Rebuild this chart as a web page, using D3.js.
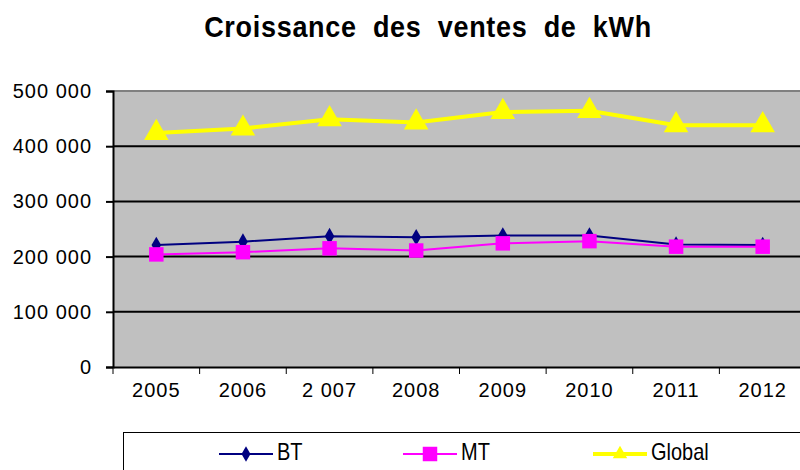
<!DOCTYPE html>
<html>
<head>
<meta charset="utf-8">
<script src="https://cdn.jsdelivr.net/npm/d3@7"></script>
<style>
  body { margin: 0; background: #fff; }
  svg { display: block; font-family: "Liberation Sans", Arial, sans-serif; }
</style>
</head>
<body>
<div id="chart"></div>
<script>
// data
const years = ["2005", "2006", "2 007", "2008", "2009", "2010", "2011", "2012"];
const bt = [221000, 227000, 237000, 235000, 238000, 238000, 222000, 221000];
const mt = [204000, 208000, 215000, 211000, 224000, 228000, 218000, 218000];
const global = [424000, 432000, 449000, 443000, 462000, 464000, 438000, 438000];
const yTicks = [0, 100000, 200000, 300000, 400000, 500000];

const series = [
  { name: "BT", values: bt, color: "#000080", width: 2, marker: "diamond" },
  { name: "MT", values: mt, color: "#FF00FF", width: 2, marker: "square" },
  { name: "Global", values: global, color: "#FFFF00", width: 4, marker: "triangle" }
];

const width = 800, height = 470;
const plot = { left: 113, top: 91, right: 806, bottom: 367 };
const FONT = "'Liberation Sans', Arial, sans-serif";

const svg = d3.select("#chart").append("svg")
  .attr("width", width)
  .attr("height", height);

// title
svg.append("text")
  .attr("transform", "translate(428,37) scale(1,1.08)")
  .attr("text-anchor", "middle")
  .attr("font-size", 27)
  .attr("font-weight", "bold")
  .attr("letter-spacing", 0.7)
  .attr("word-spacing", 8)
  .text("Croissance des ventes de kWh");

const x = d3.scaleBand().domain(years).range([plot.left, plot.right]);
const y = d3.scaleLinear().domain([0, 500000]).range([plot.bottom, plot.top]);

const fmt = v => d3.format(",")(v).replace(/,/g, " ");

// plot background
svg.append("rect")
  .attr("x", plot.left)
  .attr("y", plot.top)
  .attr("width", plot.right - plot.left)
  .attr("height", plot.bottom - plot.top)
  .attr("fill", "#C0C0C0");

svg.append("line")
  .attr("x1", plot.left).attr("x2", plot.right)
  .attr("y1", plot.top).attr("y2", plot.top)
  .attr("stroke", "#808080").attr("stroke-width", 2);

// gridlines
svg.append("g").selectAll("line")
  .data(yTicks.filter(t => t > 0 && t < 500000))
  .enter().append("line")
  .attr("x1", plot.left).attr("x2", plot.right)
  .attr("y1", d => y(d)).attr("y2", d => y(d))
  .attr("stroke", "#000").attr("stroke-width", 2);

// y axis
const yAxis = svg.append("g")
  .attr("transform", `translate(${plot.left},0)`)
  .call(d3.axisLeft(y).tickValues(yTicks).tickFormat(fmt).tickSize(7).tickPadding(14));
yAxis.select(".domain").attr("stroke", "#000").attr("stroke-width", 2);
yAxis.selectAll(".tick line").attr("stroke", "#000").attr("stroke-width", 2);
yAxis.selectAll("text")
  .attr("font-size", 20)
  .attr("font-family", FONT)
  .attr("letter-spacing", 1)
  .attr("fill", "#000");

// x axis
const xAxis = svg.append("g")
  .attr("transform", `translate(0,${plot.bottom})`)
  .call(d3.axisBottom(x).tickSize(0).tickPadding(16));
xAxis.select(".domain").attr("stroke", "#000").attr("stroke-width", 2);
xAxis.selectAll("text")
  .attr("font-size", 20)
  .attr("font-family", FONT)
  .attr("letter-spacing", 1)
  .attr("fill", "#000");

// category separators
svg.append("g").selectAll("line")
  .data(years.concat(["end"]))
  .enter().append("line")
  .attr("x1", (d, i) => plot.left + i * x.bandwidth())
  .attr("x2", (d, i) => plot.left + i * x.bandwidth())
  .attr("y1", plot.bottom).attr("y2", plot.bottom + 7)
  .attr("stroke", "#000").attr("stroke-width", 1);

const symbols = {
  diamond: d3.symbol().type(d3.symbolDiamond).size(80),
  square: d3.symbol().type(d3.symbolSquare).size(210),
  triangle: d3.symbol().type(d3.symbolTriangle).size(260)
};
const legendSymbols = {
  diamond: d3.symbol().type(d3.symbolDiamond).size(70),
  square: d3.symbol().type(d3.symbolSquare).size(210),
  triangle: d3.symbol().type(d3.symbolTriangle).size(90)
};

const line = d3.line()
  .x((d, i) => x(years[i]) + x.bandwidth() / 2)
  .y(d => y(d));

// draw series
series.forEach(s => {
  const g = svg.append("g");
  g.append("path")
    .datum(s.values)
    .attr("fill", "none")
    .attr("stroke", s.color)
    .attr("stroke-width", s.width)
    .attr("d", line);
  g.selectAll("path.pt")
    .data(s.values)
    .enter().append("path")
    .attr("class", "pt")
    .attr("transform", (d, i) => `translate(${x(years[i]) + x.bandwidth() / 2},${y(d)})`)
    .attr("d", symbols[s.marker])
    .attr("fill", s.color);
});

// legend
svg.append("rect")
  .attr("x", 123.5).attr("y", 432.5)
  .attr("width", 700).attr("height", 60)
  .attr("fill", "#fff")
  .attr("stroke", "#000").attr("stroke-width", 1);

const legendX = [219, 403, 593];
series.forEach((s, i) => {
  const lg = svg.append("g").attr("transform", `translate(${legendX[i]},454)`);
  lg.append("line")
    .attr("x1", 0).attr("x2", 54)
    .attr("stroke", s.color)
    .attr("stroke-width", s.width);
  lg.append("path")
    .attr("transform", "translate(27,0)")
    .attr("d", legendSymbols[s.marker])
    .attr("fill", s.color);
  lg.append("text")
    .attr("transform", "translate(58,6) scale(1,1.18)")
    .attr("font-size", 20)
    .text(s.name);
});
</script>
</body>
</html>
